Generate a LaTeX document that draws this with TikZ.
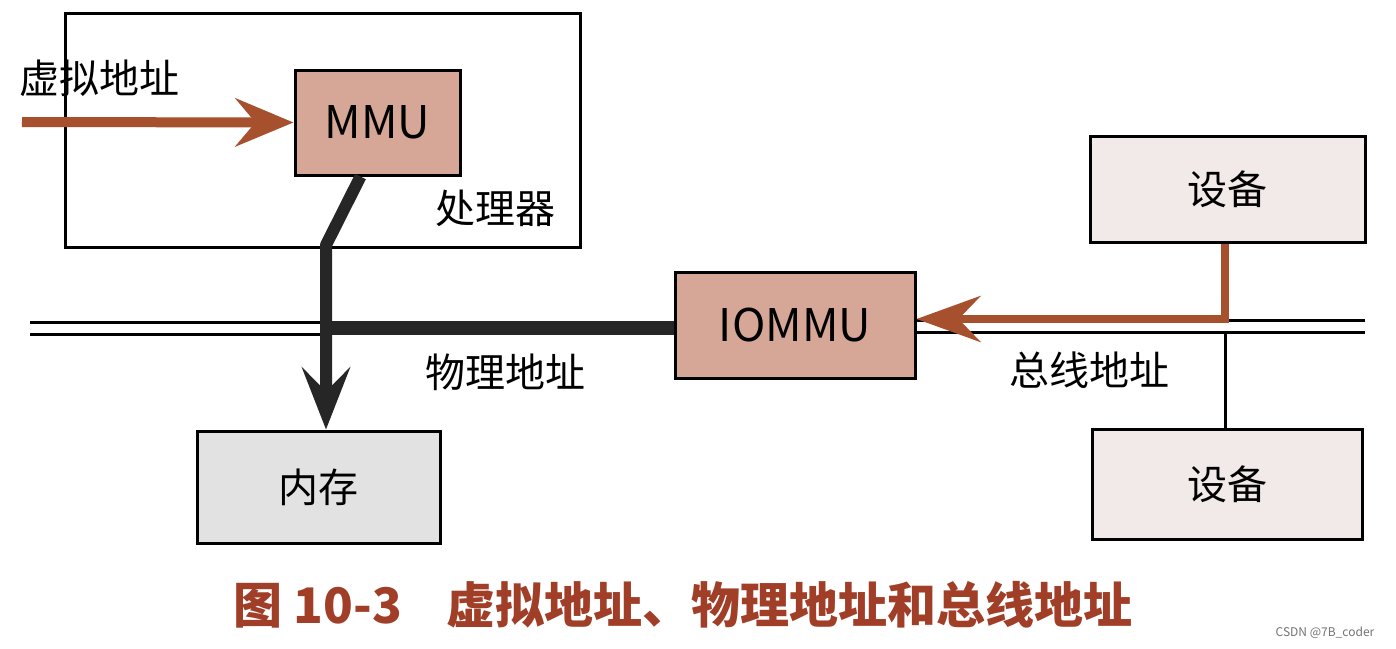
\documentclass[tikz,border=0pt]{standalone}
\usepackage{fontspec}
\setmainfont{Noto Sans CJK SC}
\usetikzlibrary{arrows.meta,calc}
\definecolor{orarrow}{RGB}{166,80,46}
\definecolor{mmufill}{RGB}{214,166,150}
\definecolor{memfill}{RGB}{226,226,226}
\definecolor{devfill}{RGB}{242,234,232}
\definecolor{captcol}{RGB}{160,62,40}
\tikzset{
  boxnode/.style={draw=black, line width=3pt, inner sep=0pt},
  lbl/.style={font=\fontsize{40pt}{42pt}\selectfont, inner sep=0pt},
  latlbl/.style={font=\fontsize{45pt}{47pt}\selectfont, inner sep=0pt},
  thinbus/.style={line width=3pt},
  vaarrow/.style={draw=orarrow, line width=10pt,
     -{Stealth[length=58pt,width=48pt,inset=20pt]}},
  baarrow/.style={draw=orarrow, line width=8pt, line join=miter,
     -{Stealth[length=64pt,width=46pt,inset=22pt]}},
  paarrow/.style={draw=black!85, line width=12pt, line join=round,
     -{Stealth[length=62pt,width=48pt,inset=24pt]}},
}
\begin{document}
\begin{tikzpicture}[x=1pt,y=-1pt]
\useasboundingbox (0,0) rectangle (1396,648);
\fill[white] (0,0) rectangle (1396,648);

% boxes
\node[boxnode, minimum width=515pt, minimum height=234pt] (proc) at (322.5,130) {};
\node[boxnode, fill=mmufill, minimum width=165pt, minimum height=105pt] (mmu) at (377.5,122.5) {};
\node[latlbl] at (mmu.center) {MMU};
\node[boxnode, fill=memfill, minimum width=243pt, minimum height=112pt] (mem) at (318.5,487) {};
\node[lbl] at (mem.center) {内存};
\node[boxnode, fill=mmufill, minimum width=240pt, minimum height=106pt] (iommu) at (795,325) {};
\node[latlbl] at (iommu.center) {IOMMU};
\node[boxnode, fill=devfill, minimum width=275pt, minimum height=106pt] (dev1) at (1227.5,189.5) {};
\node[lbl] at (dev1.center) {设备};
\node[boxnode, fill=devfill, minimum width=270pt, minimum height=110pt] (dev2) at (1227.5,484) {};
\node[lbl] at (dev2.center) {设备};

% labels
\node[lbl] (lva) at (99,78) {虚拟地址};
\node[lbl] (lproc) at (495,208) {处理器};
\node[lbl] (lpa) at (505,372) {物理地址};
\node[lbl] (lba) at (1089,370) {总线地址};

% coordinates
\coordinate (vastart) at (22,122);
\coordinate (busL1) at (30,322);
\coordinate (busL2) at (30,334);
\coordinate (busR1) at (1365,320);
\coordinate (busR2) at (1365,332);
\coordinate (jmem) at (326,328);
\coordinate (bend) at (326,245);
\coordinate (mmuout) at ($(mmu.south)+(-17,0)$);
\coordinate (devjoin) at (1225,332);

% bus lines
\draw[thinbus] (busL1) -- (busL1 -| jmem);
\draw[thinbus] (busL2) -- (busL2 -| jmem);
\draw[thinbus] (iommu.east |- busR1) -- (busR1);
\draw[thinbus] (iommu.east |- busR2) -- (busR2);
\draw[line width=14pt, black!85] (jmem) -- (iommu.west |- jmem);
\draw[thinbus] (devjoin) -- (devjoin |- dev2.north);

% arrows
\draw[vaarrow] (vastart) -- (mmu.west);
\draw[paarrow] (mmuout) -- (bend) -- (bend |- mem.north);
\draw[baarrow] (dev1.south -| devjoin) |- ([yshift=6pt]iommu.east);

% caption
\node[font=\fontsize{49pt}{51pt}\selectfont\bfseries, text=captcol, inner sep=0pt] (cap) at (683,605) {图 10-3\hspace{44pt}虚拟地址、物理地址和总线地址};
\node[font=\fontsize{12pt}{14pt}\selectfont, text=black!55, inner sep=0pt] (wm) at (1325,633) {CSDN @7B\_coder};
\end{tikzpicture}
\end{document}
